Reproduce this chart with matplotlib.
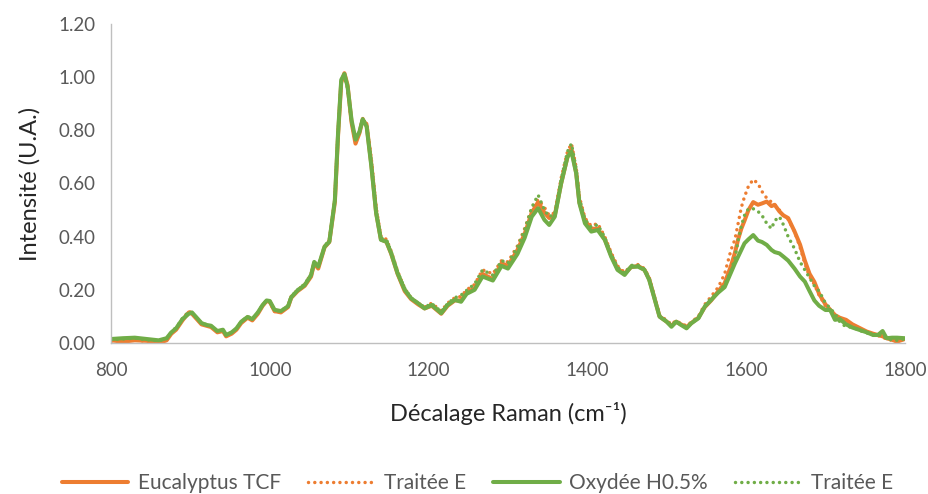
import matplotlib
matplotlib.use("Agg")
import matplotlib.pyplot as plt
from matplotlib.lines import Line2D

plt.rcParams['font.family'] = ['Lato', 'DejaVu Sans']

# Raman shift (cm-1)
shift = [800, 815, 830, 845, 860, 870, 876, 882, 890, 898, 902, 908, 914, 920, 926, 934,
         941, 945, 952, 958, 964, 972, 978, 985, 991, 996, 1000, 1006, 1014, 1023, 1027,
         1035, 1044, 1052, 1056, 1061, 1069, 1075, 1082, 1086, 1090, 1094, 1098, 1103,
         1108, 1113, 1117, 1122, 1128, 1134, 1140, 1147, 1153, 1161, 1170, 1178, 1187,
         1195, 1204, 1216, 1224, 1233, 1241, 1248, 1258, 1268, 1281, 1292, 1300, 1312,
         1321, 1330, 1338, 1346, 1352, 1359, 1367, 1375, 1380, 1386, 1390, 1397, 1405,
         1413, 1422, 1430, 1438, 1447, 1455, 1464, 1472, 1478, 1485, 1491, 1500, 1506,
         1512, 1518, 1525, 1531, 1540, 1548, 1556, 1565, 1573, 1581, 1586, 1590, 1594,
         1598, 1603, 1609, 1615, 1620, 1626, 1632, 1636, 1642, 1647, 1653, 1661, 1668,
         1674, 1680, 1686, 1692, 1700, 1706, 1712, 1718, 1726, 1734, 1742, 1752, 1760,
         1766, 1772, 1777, 1784, 1790, 1800]

eucalyptus_tcf = [0.010, 0.005, 0.010, 0.008, 0.000, 0.010, 0.035, 0.050, 0.085, 0.115,
                  0.110, 0.090, 0.070, 0.065, 0.060, 0.040, 0.045, 0.025, 0.035, 0.050,
                  0.075, 0.095, 0.085, 0.110, 0.140, 0.158, 0.155, 0.120, 0.115, 0.135,
                  0.170, 0.195, 0.215, 0.250, 0.300, 0.280, 0.360, 0.380, 0.530, 0.780,
                  0.980, 1.015, 0.970, 0.830, 0.750, 0.790, 0.840, 0.820, 0.670, 0.490,
                  0.390, 0.380, 0.335, 0.260, 0.195, 0.165, 0.145, 0.130, 0.140, 0.110,
                  0.140, 0.160, 0.160, 0.190, 0.205, 0.260, 0.240, 0.300, 0.290, 0.350,
                  0.410, 0.490, 0.530, 0.490, 0.470, 0.480, 0.600, 0.700, 0.730, 0.640,
                  0.530, 0.460, 0.430, 0.430, 0.390, 0.330, 0.280, 0.260, 0.285, 0.290,
                  0.275, 0.240, 0.165, 0.100, 0.080, 0.065, 0.080, 0.070, 0.060, 0.075,
                  0.095, 0.135, 0.160, 0.195, 0.225, 0.290, 0.340, 0.390, 0.430, 0.460,
                  0.500, 0.530, 0.520, 0.525, 0.532, 0.515, 0.520, 0.495, 0.480, 0.470,
                  0.420, 0.370, 0.310, 0.260, 0.230, 0.185, 0.145, 0.125, 0.105, 0.095,
                  0.087, 0.070, 0.058, 0.043, 0.035, 0.030, 0.025, 0.018, 0.012, 0.005,
                  0.015]

traitee_e_tcf = [0.005, 0.008, 0.012, 0.005, 0.002, 0.012, 0.040, 0.055, 0.090, 0.120,
                 0.112, 0.092, 0.072, 0.068, 0.062, 0.042, 0.048, 0.028, 0.038, 0.052,
                 0.078, 0.098, 0.088, 0.112, 0.142, 0.160, 0.152, 0.118, 0.118, 0.140,
                 0.175, 0.200, 0.220, 0.260, 0.305, 0.290, 0.365, 0.385, 0.540, 0.790,
                 0.985, 1.000, 0.960, 0.830, 0.755, 0.795, 0.845, 0.825, 0.690, 0.510,
                 0.400, 0.390, 0.345, 0.270, 0.205, 0.170, 0.150, 0.135, 0.150, 0.120,
                 0.150, 0.170, 0.175, 0.200, 0.220, 0.275, 0.260, 0.310, 0.305, 0.365,
                 0.430, 0.505, 0.540, 0.510, 0.480, 0.490, 0.620, 0.720, 0.750, 0.660,
                 0.550, 0.470, 0.440, 0.450, 0.400, 0.340, 0.290, 0.265, 0.290, 0.295,
                 0.280, 0.245, 0.170, 0.105, 0.085, 0.070, 0.085, 0.072, 0.065, 0.078,
                 0.100, 0.145, 0.175, 0.210, 0.260, 0.350, 0.390, 0.450, 0.510, 0.550,
                 0.590, 0.615, 0.600, 0.570, 0.545, 0.530, 0.520, 0.500, 0.480, 0.465,
                 0.420, 0.360, 0.300, 0.250, 0.220, 0.180, 0.140, 0.120, 0.100, 0.090,
                 0.082, 0.068, 0.055, 0.040, 0.032, 0.028, 0.022, 0.015, 0.010, 0.008,
                 0.015]

oxydee_h05 = [0.015, 0.018, 0.020, 0.015, 0.010, 0.018, 0.040, 0.055, 0.090, 0.110,
              0.115, 0.095, 0.075, 0.068, 0.065, 0.045, 0.050, 0.030, 0.040, 0.055,
              0.080, 0.098, 0.090, 0.115, 0.143, 0.160, 0.158, 0.125, 0.120, 0.138,
              0.172, 0.198, 0.218, 0.255, 0.305, 0.287, 0.362, 0.381, 0.538, 0.789,
              0.990, 1.012, 0.964, 0.839, 0.765, 0.795, 0.842, 0.814, 0.663, 0.488,
              0.388, 0.381, 0.337, 0.262, 0.200, 0.168, 0.149, 0.130, 0.143, 0.112,
              0.143, 0.162, 0.155, 0.185, 0.200, 0.250, 0.235, 0.290, 0.280, 0.335,
              0.395, 0.475, 0.507, 0.463, 0.444, 0.475, 0.600, 0.700, 0.720, 0.638,
              0.526, 0.450, 0.419, 0.425, 0.388, 0.325, 0.275, 0.256, 0.287, 0.287,
              0.275, 0.237, 0.162, 0.099, 0.080, 0.061, 0.080, 0.068, 0.055, 0.074,
              0.093, 0.137, 0.162, 0.190, 0.210, 0.265, 0.300, 0.325, 0.350, 0.375,
              0.390, 0.406, 0.385, 0.380, 0.369, 0.350, 0.342, 0.337, 0.325, 0.310,
              0.280, 0.250, 0.231, 0.195, 0.160, 0.140, 0.124, 0.124, 0.087, 0.090,
              0.070, 0.058, 0.050, 0.040, 0.030, 0.030, 0.045, 0.018, 0.020, 0.020,
              0.018]

traitee_e_oxy = [0.012, 0.015, 0.018, 0.012, 0.008, 0.015, 0.042, 0.058, 0.092, 0.118,
                 0.112, 0.094, 0.074, 0.070, 0.064, 0.044, 0.050, 0.030, 0.040, 0.054,
                 0.080, 0.100, 0.090, 0.114, 0.144, 0.160, 0.154, 0.122, 0.120, 0.140,
                 0.175, 0.200, 0.222, 0.258, 0.306, 0.290, 0.366, 0.385, 0.540, 0.790,
                 0.985, 1.005, 0.960, 0.835, 0.760, 0.795, 0.845, 0.820, 0.680, 0.500,
                 0.395, 0.388, 0.342, 0.268, 0.205, 0.170, 0.150, 0.135, 0.148, 0.118,
                 0.148, 0.170, 0.180, 0.198, 0.222, 0.275, 0.255, 0.310, 0.300, 0.360,
                 0.425, 0.510, 0.557, 0.500, 0.475, 0.485, 0.615, 0.720, 0.750, 0.655,
                 0.545, 0.465, 0.435, 0.445, 0.398, 0.335, 0.285, 0.262, 0.292, 0.292,
                 0.278, 0.242, 0.168, 0.103, 0.082, 0.066, 0.082, 0.070, 0.060, 0.076,
                 0.098, 0.140, 0.168, 0.190, 0.220, 0.270, 0.320, 0.385, 0.440, 0.480,
                 0.505, 0.505, 0.495, 0.480, 0.450, 0.430, 0.460, 0.475, 0.445, 0.400,
                 0.355, 0.305, 0.275, 0.245, 0.215, 0.195, 0.150, 0.130, 0.110, 0.080,
                 0.060, 0.060, 0.048, 0.038, 0.030, 0.028, 0.030, 0.015, 0.012, 0.010,
                 0.015]

series = [
    ("Eucalyptus TCF", eucalyptus_tcf, "#ED7D31", "solid"),
    ("Traitée E", traitee_e_tcf, "#ED7D31", "dotted"),
    ("Oxydée H0.5%", oxydee_h05, "#70AD47", "solid"),
    ("Traitée E", traitee_e_oxy, "#70AD47", "dotted"),
]

x_ticks = [800, 1000, 1200, 1400, 1600, 1800]
y_ticks = [0.0, 0.2, 0.4, 0.6, 0.8, 1.0, 1.2]

DOT = (0, (0.01, 1.8))


def line_style(color, style):
    if style == "solid":
        return dict(color=color, lw=2.9, linestyle="-", solid_joinstyle="round",
                    solid_capstyle="round")
    return dict(color=color, lw=2.5, linestyle=DOT, dash_capstyle="round")


fig = plt.figure(figsize=(9.29, 4.94), dpi=100)
ax = fig.add_axes([0.1195, 0.3057, 0.8545, 0.6457])

for label, values, color, style in series:
    ax.plot(shift, values, label=label, **line_style(color, style))

ax.set_xlim(800, 1800)
ax.set_ylim(0, 1.2)
ax.set_xticks(x_ticks)
ax.set_yticks(y_ticks)
ax.set_yticklabels([f"{v:.2f}" for v in y_ticks])
ax.tick_params(axis="both", length=0, labelsize=13.5, colors="#595959")
ax.tick_params(axis="y", pad=11)
ax.tick_params(axis="x", pad=14)

for side in ("top", "right"):
    ax.spines[side].set_visible(False)
for side in ("left", "bottom"):
    ax.spines[side].set_color("#BFBFBF")
    ax.spines[side].set_linewidth(1.0)

ax.set_xlabel("Décalage Raman (cm⁻¹)", fontsize=17, color="#262626", labelpad=16)
ax.set_ylabel("Intensité (U.A.)", fontsize=17, color="#262626", labelpad=13)

leg_handles = [Line2D([0], [0], **line_style(color, style))
               for _, _, color, style in series]
fig.legend(leg_handles, [s[0] for s in series], loc="center", ncol=4,
           bbox_to_anchor=(0.514, 0.022), frameon=False, fontsize=15,
           handlelength=3.2, handletextpad=0.45, columnspacing=1.3,
           labelcolor="#595959")

fig.savefig("out.png", dpi=100)
